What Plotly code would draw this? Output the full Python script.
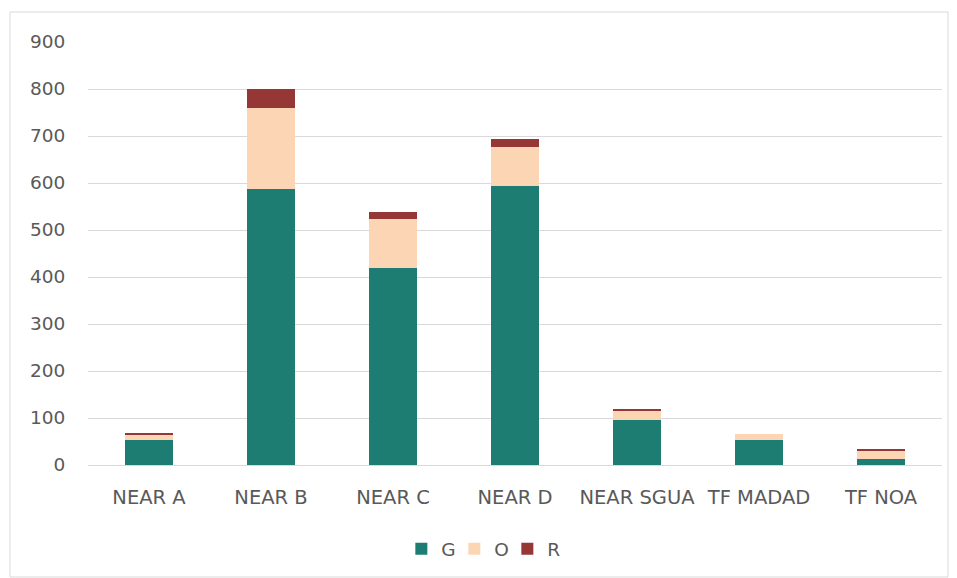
import plotly.graph_objects as go

categories = ["NEAR A", "NEAR B", "NEAR C", "NEAR D", "NEAR SGUA", "TF MADAD", "TF NOA"]
g_values = [53, 587, 419, 593, 96, 53, 13]
o_values = [12, 172, 104, 83, 20, 13, 18]
r_values = [1, 41, 16, 17, 4, 0, 3]
y_ticks = [0, 100, 200, 300, 400, 500, 600, 700, 800, 900]

series = [
    ("G", g_values, "#1E7D72"),
    ("O", o_values, "#FCD5B5"),
    ("R", r_values, "#953735"),
]

fig = go.Figure()
for name, vals, color in series:
    fig.add_trace(go.Bar(
        name=name, x=categories, y=vals,
        marker=dict(color=color, line=dict(width=0)),
    ))

font_family = "DejaVu Sans, Verdana, sans-serif"
label_size = 18.5
fig.update_layout(
    barmode="stack",
    bargap=0.61,
    width=957, height=578,
    margin=dict(l=88, r=15, t=42, b=113, autoexpand=False),
    paper_bgcolor="white",
    plot_bgcolor="white",
    font=dict(family=font_family, size=label_size, color="#595959"),
    showlegend=True,
    legend=dict(
        orientation="h", x=0.46, xanchor="center", y=-0.199, yanchor="middle",
        font=dict(size=label_size, color="#595959"), traceorder="normal",
        itemwidth=30, entrywidth=8, entrywidthmode="pixels",
    ),
    xaxis=dict(
        automargin=False,
        showgrid=False, showline=False, zeroline=False,
        ticks="outside", ticklen=15, tickcolor="rgba(0,0,0,0)",
        tickfont=dict(size=19.5, color="#595959"),
    ),
    yaxis=dict(
        automargin=False,
        range=[0, 900], tickvals=y_ticks,
        showgrid=True, gridcolor="#D9D9D9", gridwidth=1,
        zeroline=True, zerolinecolor="#D9D9D9", zerolinewidth=1,
        showline=False,
        ticks="outside", ticklen=18, tickcolor="rgba(0,0,0,0)",
        tickfont=dict(size=label_size, color="#595959"),
    ),
    shapes=[dict(
        type="rect", xref="paper", yref="paper",
        x0=(10 - 88) / 854, x1=(948 - 88) / 854,
        y0=(465 - 577) / 423, y1=(465 - 12) / 423,
        line=dict(color="#D9D9D9", width=1), fillcolor="rgba(0,0,0,0)",
        layer="below",
    )],
)

fig.write_html("out.html")
